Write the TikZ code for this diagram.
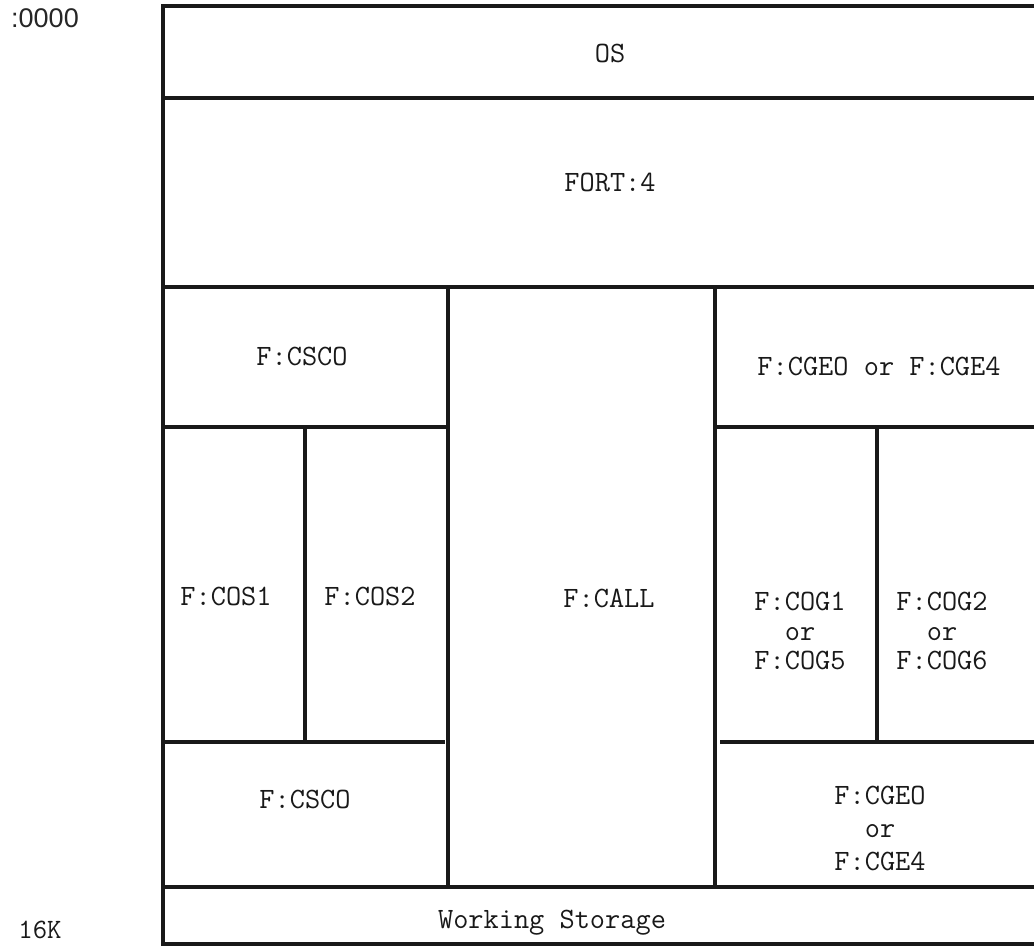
\documentclass[tikz,border=0pt]{standalone}
\usepackage{fontspec}
\newfontfamily\addrfont{Liberation Sans}
\usetikzlibrary{positioning}

\begin{document}
\begin{tikzpicture}
	[x=1pt, y=-1pt,
	wall/.style={line width=3.2pt, black!90, line cap=rect},
	lbl/.style={font=\fontsize{29.5}{29.5}\selectfont\ttfamily, inner sep=0pt, align=center, text=black!90},
	addr/.style={inner sep=0pt, text=black!85}]

	\useasboundingbox (0,0) rectangle (1034,946);

	% outer frame (right side runs off the page)
	\draw[wall] (1034,6) -- (163,6) -- (163,944) -- (1034,944);
	\draw[wall] (163,98) -- (1034,98);
	\draw[wall] (163,287) -- (1034,287);
	\draw[wall] (163,887) -- (1034,887);

	% F:CALL column
	\draw[wall] (448,287) -- (448,887);
	\draw[wall] (715,287) -- (715,887);

	% left overlay area
	\draw[wall] (163,427) -- (448,427);
	\draw[wall] (163,742) -- (443,742);
	\draw[wall] (305,427) -- (305,742);

	% right overlay area
	\draw[wall] (715,427) -- (1034,427);
	\draw[wall] (722,742) -- (1034,742);
	\draw[wall] (877,427) -- (877,742);

	\node[addr, anchor=base, font=\addrfont\fontsize{27}{28}\selectfont] (top) at (45,27) {:0000};
	\node[lbl, anchor=base, font=\fontsize{28}{28}\selectfont\ttfamily] (bot) at (40,938) {16K};

	\node[lbl, anchor=base] (os) at (610,62) {OS};
	\node[lbl, anchor=base] (fort) at (610,191) {FORT:4};
	\node[lbl, anchor=base] (csco1) at (302,365) {F:CSCO};
	\node[lbl, anchor=base] (cgeo1) at (879,375) {F:CGEO or F:CGE4};
	\node[lbl, anchor=base] (cos1) at (226,605) {F:COS1};
	\node[lbl, anchor=base] (cos2) at (370,605) {F:COS2};
	\node[lbl, anchor=base] (call) at (609,607) {F:CALL};
	\node[lbl] (cog1) at (800,631) {F:COG1\\or\\F:COG5};
	\node[lbl] (cog2) at (942,631) {F:COG2\\or\\F:COG6};
	\node[lbl, anchor=base] (csco2) at (305,808) {F:CSCO};
	\node[lbl] (cgeo2) at (880,828) {F:CGEO\\[3.5pt]or\\[3.5pt]F:CGE4};
	\node[lbl, anchor=base] (work) at (552,928) {Working Storage};

\end{tikzpicture}
\end{document}
